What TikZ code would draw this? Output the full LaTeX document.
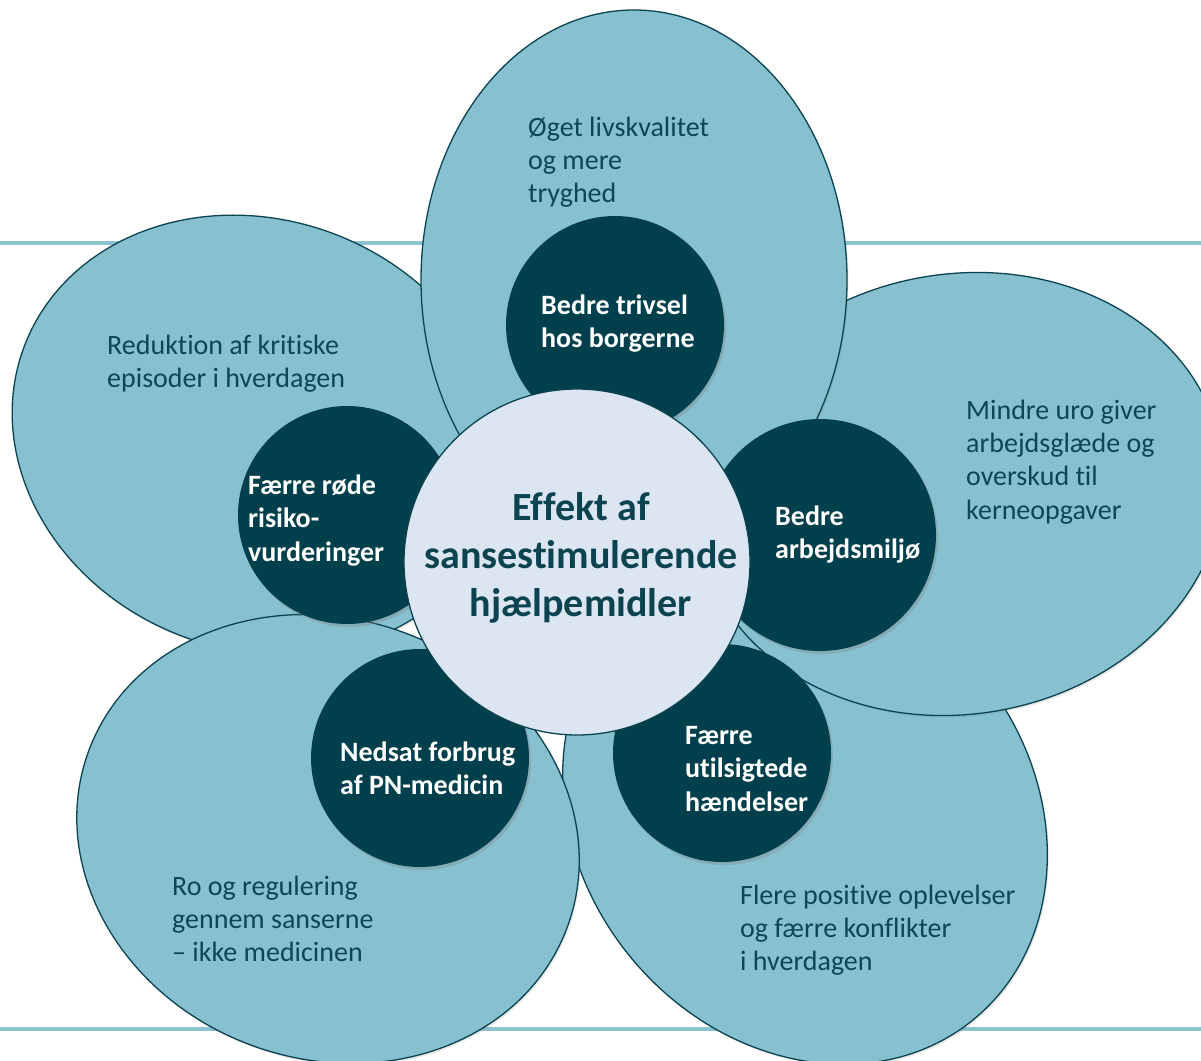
\documentclass[tikz,border=0pt]{standalone}
\usepackage{fontspec}
\setmainfont{Carlito}[Ligatures=NoCommon]
\usetikzlibrary{shapes.geometric,shadows}
\definecolor{petal}{HTML}{87C0CF}
\definecolor{rulec}{HTML}{8DC3D1}
\definecolor{edgec}{HTML}{0B4450}
\definecolor{darkc}{HTML}{00404C}
\definecolor{corec}{HTML}{DCE6F2}
\definecolor{ptextc}{HTML}{0B4754}
\begin{document}
\begin{tikzpicture}[x=1pt,y=-1pt,
 petalshape/.style={ellipse, draw=edgec, line width=1.3pt, fill=petal, inner sep=0pt,
   drop shadow={opacity=0.18, shadow xshift=1.5pt, shadow yshift=-2pt}},
 darkdisc/.style={circle, fill=darkc, inner sep=0pt, minimum size=218pt,
   drop shadow={opacity=0.3, shadow xshift=2pt, shadow yshift=-3pt}},
 coredisc/.style={circle, draw=edgec, line width=1.3pt, fill=corec, inner sep=0pt, minimum size=346pt},
 ptxt/.style={anchor=north west, inner sep=0pt, align=left, text=ptextc, font=\fontsize{28}{33.3}\selectfont},
 dtxt/.style={anchor=north west, inner sep=0pt, align=left, text=white, font=\fontsize{28}{33.5}\selectfont\bfseries},
 ctxt/.style={anchor=north, inner sep=0pt, align=center, text=edgec, font=\fontsize{40}{48}\selectfont\bfseries},
 hrule/.style={draw=rulec, line width=4pt}]
\useasboundingbox (0,0) rectangle (1201,1060);
% rules
\coordinate (r1a) at (0,243); \coordinate (r1b) at (1201,243);
\coordinate (r2a) at (0,1029); \coordinate (r2b) at (1201,1029);
\draw[hrule] (r1a) -- (r1b);
\draw[hrule] (r2a) -- (r2b);
% petals
\node[petalshape, minimum width=530pt, minimum height=450pt, rotate=-50] (pBR) at (805,815) {};
\node[petalshape, minimum width=530pt, minimum height=440pt, rotate=10] (pR) at (960,494) {};
\node[petalshape, minimum width=500pt, minimum height=430pt, rotate=-21] (pL) at (258,435) {};
\node[petalshape, minimum width=426pt, minimum height=540pt] (pT) at (634,280) {};
\node[petalshape, minimum width=510pt, minimum height=440pt, rotate=-20] (pBL) at (328,839) {};
% dark discs
\node[darkdisc] (dT) at (615,325) {};
\node[darkdisc] (dL) at (347,515) {};
\node[darkdisc, minimum size=232pt] (dR) at (820,535) {};
\node[darkdisc] (dBL) at (420,758) {};
\node[darkdisc] (dBR) at (722,753) {};
% core
\node[coredisc] (core) at (577,562) {};
% petal texts
\node[ptxt] (tT) at (528,112.7) {\strut Øget livskvalitet\\og mere\\tryghed};
\node[ptxt] (tL) at (107,330.7) {\strut Reduktion af kritiske\\episoder i hverdagen};
\node[ptxt] (tR) at (966,395.7) {\strut Mindre uro giver\\arbejdsglæde og\\overskud til\\kerneopgaver};
\node[ptxt] (tBL) at (172,871.7) {\strut Ro og regulering\\gennem sanserne\\– ikke medicinen};
\node[ptxt] (tBR) at (740,880.7) {\strut Flere positive oplevelser\\og færre konflikter\\i hverdagen};
% disc texts
\node[dtxt] (sT) at (541,290.5) {\strut Bedre trivsel\\hos borgerne};
\node[dtxt] (sL) at (248,470.5) {\strut Færre røde\\risiko-\\vurderinger};
\node[dtxt] (sR) at (775,501.5) {\strut Bedre\\arbejdsmiljø};
\node[dtxt] (sBL) at (340,737.5) {\strut Nedsat forbrug\\af PN-medicin};
\node[dtxt] (sBR) at (685,720.5) {\strut Færre\\utilsigtede\\hændelser};
% core text
\node[ctxt] (cT) at (581,486.4) {\strut Effekt af\\sansestimulerende\\hjælpemidler};
\end{tikzpicture}
\end{document}
